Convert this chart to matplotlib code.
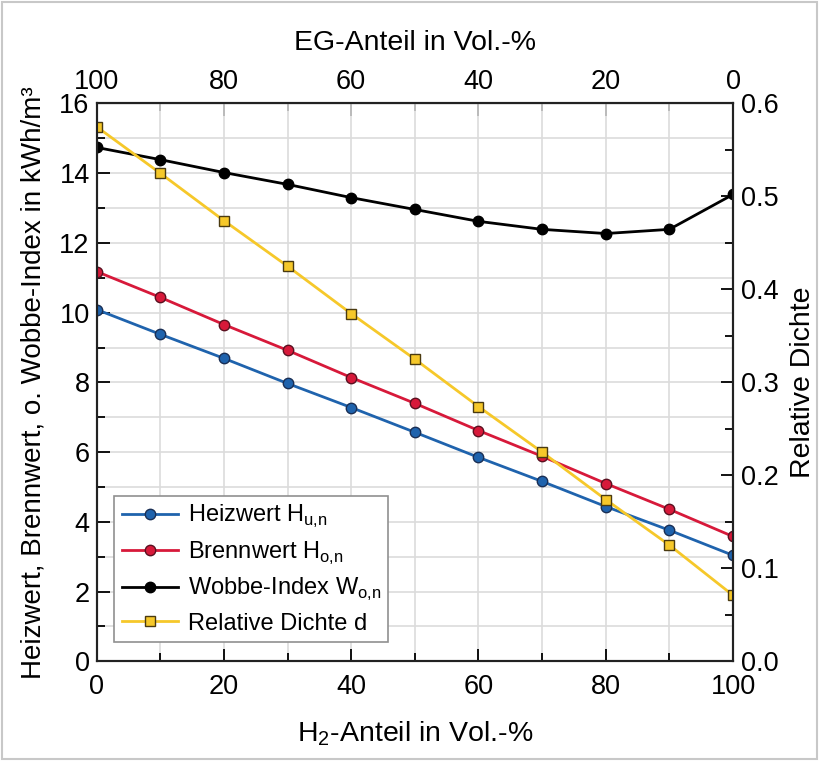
import matplotlib
matplotlib.use("Agg")
import matplotlib.pyplot as plt
from matplotlib.ticker import MultipleLocator

plt.rcParams["font.family"] = ["Liberation Sans", "DejaVu Sans"]
plt.rcParams["mathtext.fontset"] = "custom"
plt.rcParams["mathtext.rm"] = "Liberation Sans"

h2 = [0, 10, 20, 30, 40, 50, 60, 70, 80, 90, 100]
heizwert = [10.09, 9.38, 8.69, 7.97, 7.28, 6.57, 5.85, 5.16, 4.44, 3.76, 3.04]
brennwert = [11.18, 10.44, 9.66, 8.92, 8.14, 7.40, 6.62, 5.88, 5.10, 4.36, 3.58]
wobbe = [14.74, 14.39, 14.02, 13.68, 13.30, 12.96, 12.62, 12.39, 12.27, 12.39, 13.39]
dichte = [0.575, 0.525, 0.474, 0.425, 0.374, 0.325, 0.274, 0.225, 0.174, 0.125, 0.071]
top_ticks = [0, 20, 40, 60, 80, 100]
top_labels = ["100", "80", "60", "40", "20", "0"]

fig = plt.figure(figsize=(8.19, 7.61), dpi=100)
ax = fig.add_axes([0.118, 0.131, 0.777, 0.733])
ax2 = ax.twinx()

l1, = ax.plot(h2, heizwert, "-o", color="#1f63ad", mfc="#1f63ad", mec="#1a2f55",
              ms=7.5, lw=2, label=r"Heizwert H$_{\mathrm{u{,}n}}$")
l2, = ax.plot(h2, brennwert, "-o", color="#d7193a", mfc="#d7193a", mec="#5a1020",
              ms=7.5, lw=2, label=r"Brennwert H$_{\mathrm{o{,}n}}$")
l3, = ax.plot(h2, wobbe, "-o", color="black", ms=7.5, lw=2,
              label=r"Wobbe-Index W$_{\mathrm{o{,}n}}$")
l4, = ax2.plot(h2, dichte, "-s", color="#f6c82a", mfc="#f6c82a", mec="#4a3a10",
               ms=6.5, mew=1.0, lw=2, label="Relative Dichte d")

ax.set_xlim(0, 100)
ax.set_ylim(0, 16)
ax2.set_ylim(0, 0.6)
ax.xaxis.set_major_locator(MultipleLocator(20))
ax.xaxis.set_minor_locator(MultipleLocator(10))
ax.yaxis.set_major_locator(MultipleLocator(2))
ax.yaxis.set_minor_locator(MultipleLocator(1))
ax2.yaxis.set_major_locator(MultipleLocator(0.1))
ax2.yaxis.set_minor_locator(MultipleLocator(0.05))
ax2.yaxis.set_major_formatter(plt.FuncFormatter(lambda v, p: f"{v:.1f}"))

ax.grid(True, which="both", color="#dcdcdc", lw=1.2)
ax.set_axisbelow(True)

for a in (ax, ax2):
    a.tick_params(which="both", direction="in", labelsize=19.5, width=1.3)
    a.tick_params(which="major", length=9)
    a.tick_params(which="minor", length=6)
    for s in a.spines.values():
        s.set_linewidth(1.5)
        s.set_color("#222222")
ax.tick_params(axis="x", pad=9)
ax.tick_params(axis="y", pad=5)
ax2.tick_params(axis="y", pad=6)

ax.set_xlabel(r"H$_2$-Anteil in Vol.-%", fontsize=20.5, labelpad=14)
ax.set_ylabel("Heizwert, Brennwert, o. Wobbe-Index in kWh/m³", fontsize=20, labelpad=9)
ax2.set_ylabel("Relative Dichte", fontsize=20.5, labelpad=8)

top = ax.secondary_xaxis("top")
top.set_xticks(top_ticks)
top.set_xticklabels(top_labels)
top.xaxis.set_minor_locator(MultipleLocator(10))
top.tick_params(which="both", direction="in", labelsize=19.5, width=1.3, pad=6)
top.tick_params(which="major", length=9)
top.tick_params(which="minor", length=6)
top.set_xlabel("EG-Anteil in Vol.-%", fontsize=20.5, labelpad=14)

leg = ax.legend(handles=[l1, l2, l3, l4], loc="lower left", bbox_to_anchor=(0.028, 0.035),
                fontsize=17, fancybox=False, edgecolor="#909090", framealpha=1,
                handlelength=2.4, borderpad=0.3, labelspacing=0.4, handletextpad=0.4,
                borderaxespad=0.0)
leg.get_frame().set_linewidth(1.2)

fig.patches.append(plt.Rectangle((0.002, 0.002), 0.996, 0.996, transform=fig.transFigure,
                                 fill=False, edgecolor="#c8c8c8", lw=1.5))

fig.savefig("out.png", dpi=100)
